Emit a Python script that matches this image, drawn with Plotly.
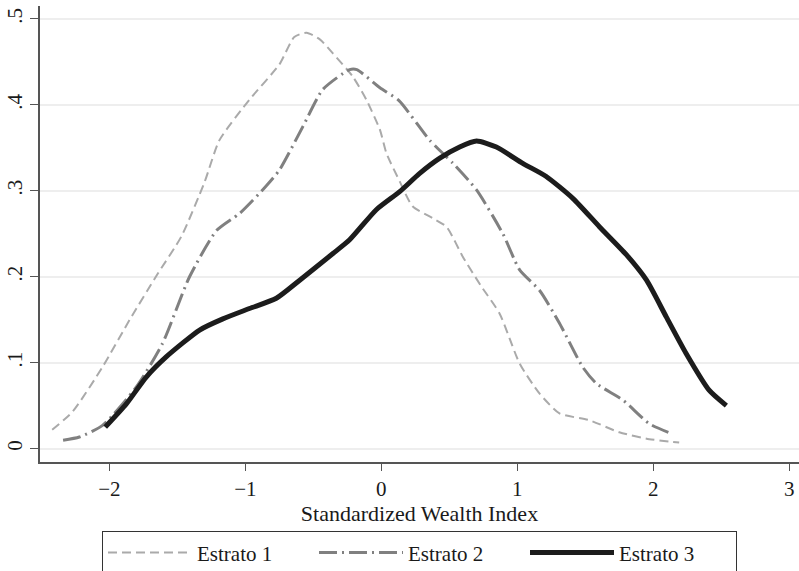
import plotly.graph_objects as go

# ---- data ----
e1_x = [-2.42, -2.27, -2.05, -1.85, -1.65, -1.47, -1.30, -1.19, -0.97, -0.75,
        -0.64, -0.55, -0.45, -0.356, -0.21, -0.11, -0.01, 0.037, 0.135, 0.23, 0.38,
        0.48, 0.60, 0.73, 0.87, 1.017, 1.164, 1.31, 1.53, 1.75, 1.97, 2.19]
e1_y = [0.022, 0.043, 0.095, 0.150, 0.202, 0.247, 0.310, 0.359, 0.406, 0.447,
        0.479, 0.484, 0.476, 0.460, 0.433, 0.406, 0.371, 0.344, 0.311, 0.282, 0.268,
        0.258, 0.223, 0.190, 0.157, 0.099, 0.064, 0.041, 0.033, 0.019, 0.011, 0.007]

e2_x = [-2.34, -2.22, -2.05, -1.80, -1.61, -1.41, -1.21, -1.04, -0.85, -0.75,
        -0.576, -0.43, -0.233, -0.18, -0.01, 0.13, 0.355, 0.527, 0.70, 0.894,
        1.017, 1.164, 1.31, 1.48, 1.58, 1.78, 1.97, 2.14]
e2_y = [0.0097, 0.0135, 0.027, 0.072, 0.122, 0.200, 0.254, 0.274, 0.305, 0.324,
        0.375, 0.418, 0.441, 0.441, 0.420, 0.405, 0.359, 0.332, 0.301, 0.250,
        0.208, 0.184, 0.146, 0.095, 0.076, 0.056, 0.029, 0.017]

e3_x = [-2.03, -1.875, -1.73, -1.58, -1.336, -1.165, -0.97, -0.772, -0.60, -0.356,
        -0.233, -0.037, 0.135, 0.28, 0.43, 0.576, 0.70, 0.846, 1.04, 1.21,
        1.41, 1.605, 1.80, 1.95, 2.096, 2.24, 2.41, 2.537]
e3_y = [0.025, 0.052, 0.083, 0.107, 0.138, 0.151, 0.163, 0.175, 0.196, 0.227,
        0.243, 0.278, 0.299, 0.320, 0.338, 0.351, 0.358, 0.351, 0.332, 0.317,
        0.291, 0.258, 0.226, 0.196, 0.153, 0.111, 0.068, 0.050]

series_names = ["Estrato 1", "Estrato 2", "Estrato 3"]

x_tickvals = [-2, -1, 0, 1, 2, 3]
y_tickvals = [0, 0.1, 0.2, 0.3, 0.4, 0.5]
y_ticktext = ["0", ".1", ".2", ".3", ".4", ".5"]

x_title = "Standardized Wealth Index"

# ---- figure ----
FONT = "Liberation Serif, Times New Roman, serif"

fig = go.Figure()
fig.add_trace(go.Scatter(x=e1_x, y=e1_y, mode="lines", name=series_names[0],
                         line=dict(color="#aaaaaa", width=2, dash="9px,5px",
                                   shape="spline", smoothing=0.6)))
fig.add_trace(go.Scatter(x=e2_x, y=e2_y, mode="lines", name=series_names[1],
                         line=dict(color="#808080", width=3, dash="18px,5px,2px,5px",
                                   shape="spline", smoothing=0.6)))
fig.add_trace(go.Scatter(x=e3_x, y=e3_y, mode="lines", name=series_names[2],
                         line=dict(color="#1c1c1c", width=5,
                                   shape="spline", smoothing=0.6)))

fig.update_layout(
    width=799, height=571,
    margin=dict(l=40, r=0, t=6, b=109, pad=0, autoexpand=False),
    paper_bgcolor="white", plot_bgcolor="white",
    font=dict(family=FONT, size=20, color="#1a1a1a"),
    showlegend=True,
    legend=dict(orientation="h", x=0.5, xanchor="center", y=-0.152, yanchor="top",
                bordercolor="#333333", borderwidth=1, bgcolor="white",
                font=dict(family=FONT, size=21, color="#1a1a1a"),
                itemwidth=84, entrywidth=112, entrywidthmode="pixels",
                traceorder="normal"),
    xaxis=dict(range=[-2.5096, 3.071], tickvals=x_tickvals, automargin=False,
               showgrid=False, zeroline=False,
               showline=True, linecolor="#555555", linewidth=1.5,
               ticks="outside", ticklen=7, tickwidth=1.2, tickcolor="#555555",
               tickfont=dict(family=FONT, size=21),
               title=dict(text=x_title, font=dict(family=FONT, size=22), standoff=0)),
    yaxis=dict(range=[-0.0156, 0.5151], tickvals=y_tickvals, ticktext=y_ticktext,
               automargin=False,
               showgrid=True, gridcolor="#eeeeee", gridwidth=1.5, zeroline=False,
               showline=True, linecolor="#555555", linewidth=1.5,
               ticks="outside", ticklen=8, tickwidth=1.2, tickcolor="#555555",
               tickangle=-90, tickfont=dict(family=FONT, size=21)),
)

fig.write_html("out.html",
               config={"displayModeBar": False},
               post_script="document.body.style.margin='0';document.body.style.padding='0';")
